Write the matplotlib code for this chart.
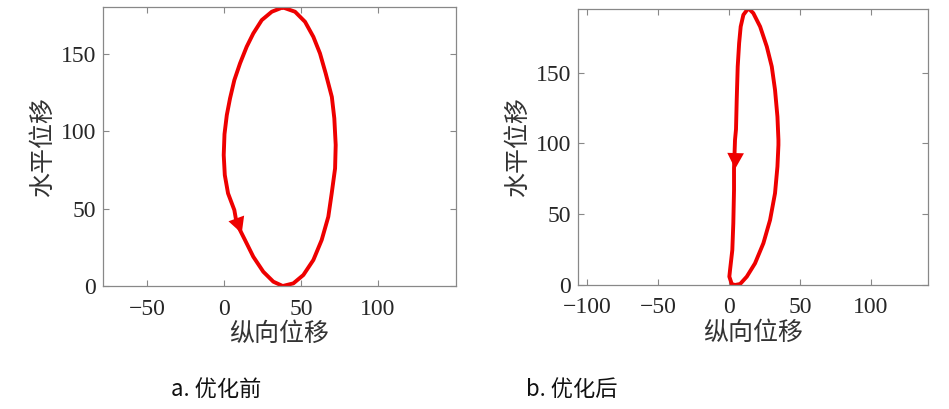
import matplotlib
matplotlib.use("Agg")
from matplotlib import pyplot as plt

# loop before optimisation (纵向位移, 水平位移)
x_before = [38.1, 31.0, 24.5, 19.0, 14.7, 10.4, 6.7, 3.9, 1.8, 0.3, -0.2, 0.5, 2.6,
            6.7, 8.2, 13.6, 19.0, 25.5, 32.0, 38.1,
            45.0, 51.5, 58.0, 63.4, 67.7, 69.9, 72.1, 72.5, 71.6, 70.0, 66.0, 62.3,
            58.0, 52.6, 46.1, 38.1]
y_before = [179.8, 177.0, 171.6, 163.0, 154.4, 143.7, 132.9, 121.1, 110.3, 98.0, 84.5, 71.6, 59.8,
            49.0, 40.4, 29.7, 18.9, 9.2, 2.8, 0.0,
            1.7, 7.1, 16.8, 29.7, 44.7, 59.8, 75.9, 91.0, 108.2, 122.0, 137.2, 150.1,
            160.8, 170.5, 177.0, 179.8]

# loop after optimisation
x_after = [13.6, 10.1, 8.2, 7.1, 6.1, 5.4, 4.9, 4.2, 3.5, 3.5, 3.0, 2.3, 0.7, 0.2, 1.9, 4.2,
           7.8, 12.5, 18.3, 24.2, 28.9, 32.4, 34.1, 34.8, 34.8, 34.1, 32.4, 30.1, 26.6,
           21.9, 17.1, 13.6]
y_after = [195.5, 190.8, 182.5, 170.8, 154.3, 130.7, 110.0, 102.5, 82.5, 67.1, 43.6, 24.7, 10.6, 5.9, 0.7, 0.0,
           0.7, 5.9, 15.3, 29.5, 45.9, 64.8, 83.6, 98.9, 102.5, 118.9, 137.8, 154.3, 168.4,
           182.5, 192.0, 195.5]

x_ticks_a = [-50, 0, 50, 100]
x_ticks_b = [-100, -50, 0, 50, 100]
y_ticks = [0, 50, 100, 150]
captions = ["a. 优化前", "b. 优化后"]

cjk = ['Noto Sans CJK SC', 'DejaVu Sans']
plt.rcParams['font.family'] = ['Liberation Serif', 'DejaVu Serif']

fig = plt.figure(figsize=(9.49, 4.09), dpi=100)
ax1 = fig.add_axes([0.1085, 0.3007, 0.372, 0.682])
ax2 = fig.add_axes([0.609, 0.3032, 0.369, 0.675])

panels = [
    (ax1, x_before, y_before, (-78.6, 150.6), (0, 180), x_ticks_a, (8.0, 43.5), (11.5, 34.0)),
    (ax2, x_after, y_after, (-106.5, 140.3), (0, 195), x_ticks_b, (4.6, 92.5), (4.3, 82.0)),
]

for ax, xs, ys, xl, yl, xt, a_from, a_to in panels:
    ax.plot(xs, ys, color='#ee0000', lw=2.8, solid_joinstyle='round', solid_capstyle='round')
    ax.annotate('', xy=a_to, xytext=a_from,
                arrowprops=dict(arrowstyle='-|>,head_length=0.95,head_width=0.5',
                                color='#ee0000', lw=0, mutation_scale=12,
                                shrinkA=0, shrinkB=0))
    ax.set_xlim(*xl)
    ax.set_ylim(*yl)
    ax.set_xticks(xt)
    ax.set_yticks(y_ticks)
    ax.tick_params(direction='in', top=True, right=True, length=4, width=0.8,
                   color='#888888', labelsize=17, labelcolor='#262626')
    ax.tick_params(axis='x', pad=9)
    ax.tick_params(axis='y', pad=5)
    for s in ax.spines.values():
        s.set_color('#888888')
        s.set_linewidth(0.9)
    ax.set_xlabel('纵向位移', family=cjk, fontsize=18, color='#333333', labelpad=1)
    ax.set_ylabel('水平位移', family=cjk, fontsize=18, color='#333333', labelpad=3)

fig.text(0.228, 0.047, captions[0], family=cjk, fontsize=16, ha='center', va='center', color='#111111')
fig.text(0.603, 0.047, captions[1], family=cjk, fontsize=16, ha='center', va='center', color='#111111')

fig.savefig('out.png', dpi=100)
